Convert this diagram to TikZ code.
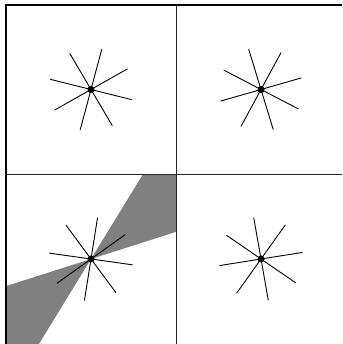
\documentclass[tikz,border=0pt]{standalone}
\usepackage{tikz}
\usetikzlibrary{calc}

\begin{document}
\begin{tikzpicture}[x=1pt, y=1pt,
    spoke/.style={line width=0.9pt, black},
    frame/.style={line width=2pt, black},
    divider/.style={line width=1pt, black!85},
    wedge/.style={fill=black!50}]
    \useasboundingbox (0,0) rectangle (342,344);

    % Cell centres
    \coordinate (tl) at (91,254.5);
    \coordinate (tr) at (261,254.5);
    \coordinate (bl) at (91,85);
    \coordinate (br) at (261,85);

    % Shaded double wedge in lower left cell
    \begin{scope}
        \clip (6,0) rectangle (176,169.7);
        \fill[wedge] (bl) -- ($(bl)+(17.7:300)$) -- ($(bl)+(58.5:300)$) -- cycle;
        \fill[wedge] (bl) -- ($(bl)+(197.7:300)$) -- ($(bl)+(238.5:300)$) -- cycle;
    \end{scope}

    % Grid lines
    \draw[frame] (6,0) -- (6,339) -- (342,339);
    \draw[divider] (176,0) -- (176,339);
    \draw[divider] (6,169.7) -- (342,169.7);

    % Stars, four spokes each
    \foreach \c/\a in {tl/29.5, tr/16, bl/35.5, br/9} {
        \foreach \k in {0,1,2,3}
            \draw[spoke] ($(\c)+(\a+45.5*\k:42)$) -- ($(\c)+(\a+45.5*\k+180:42)$);
        \fill (\c) circle (3.5pt);
    }
\end{tikzpicture}
\end{document}
